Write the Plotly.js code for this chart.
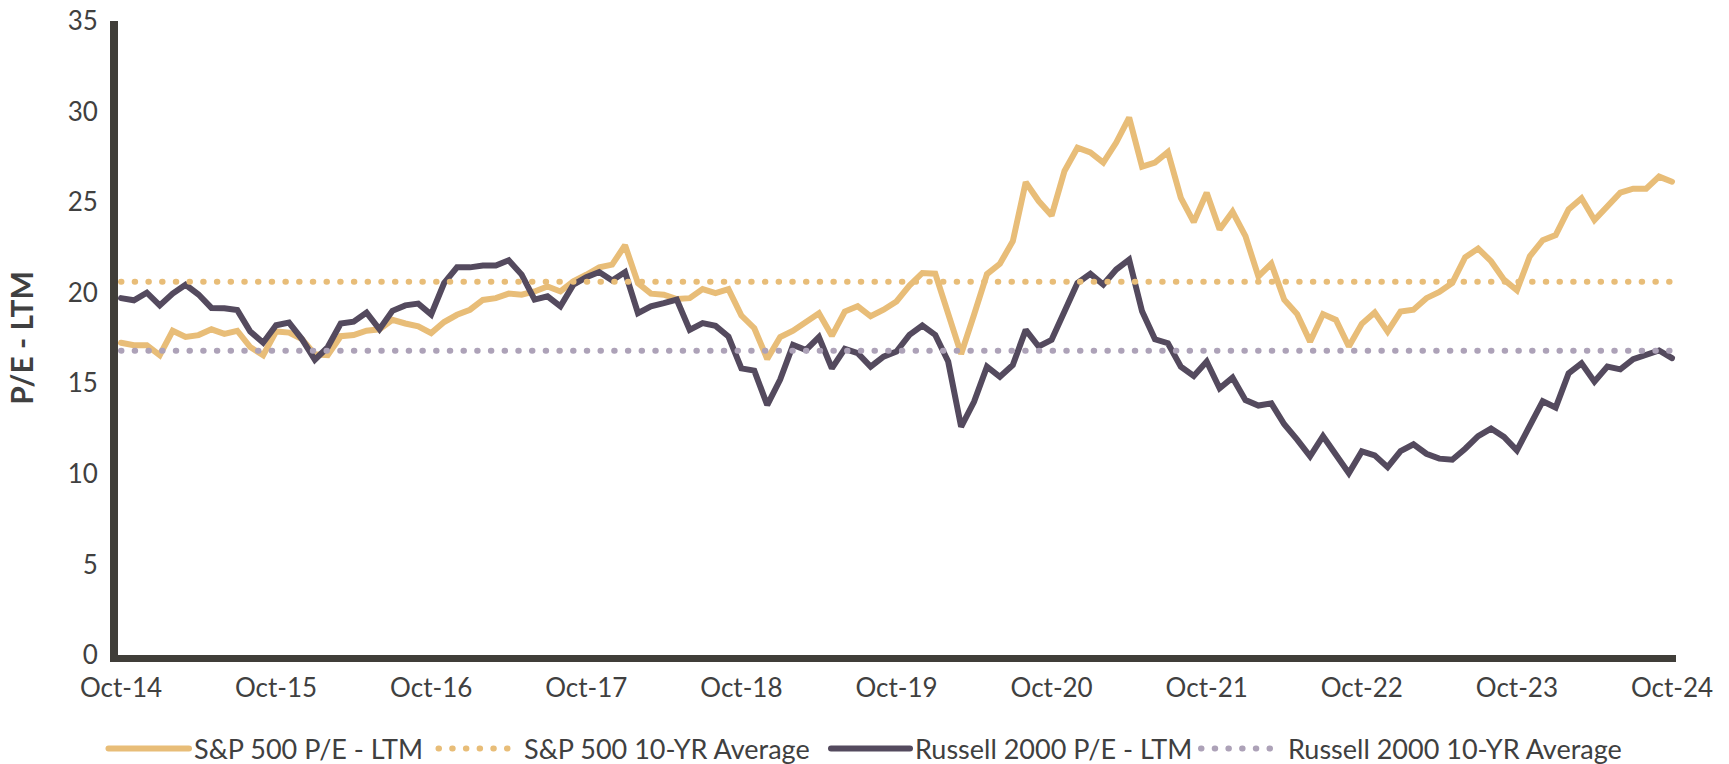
<!DOCTYPE html>
<html>
<head>
<meta charset="utf-8">
<script src="https://cdn.plot.ly/plotly-3.0.1.min.js"></script>
<style>
  html, body { margin: 0; padding: 0; background: #ffffff; }
  #chart { width: 1729px; height: 764px; }
  path.js-line { stroke-linecap: round !important; stroke-linejoin: miter !important; }
</style>
</head>
<body>
<div id="chart"></div>
<script>
// Month categories Oct-14 .. Oct-24 (monthly)
const monthNames = ["Jan","Feb","Mar","Apr","May","Jun","Jul","Aug","Sep","Oct","Nov","Dec"];
const months = [];
for (let y = 2014, m = 9; y < 2024 || (y === 2024 && m <= 9); ) {
  months.push(monthNames[m] + "-" + String(y).slice(2));
  m++; if (m === 12) { m = 0; y++; }
}

const xTickLabels = ["Oct-14","Oct-15","Oct-16","Oct-17","Oct-18","Oct-19","Oct-20","Oct-21","Oct-22","Oct-23","Oct-24"];

const sp500PE = [
  17.24,17.1,17.1,16.55,17.9,17.56,17.66,17.98,17.73,17.9,17.0,16.55,
  17.86,17.8,17.44,16.6,16.55,17.6,17.66,17.9,17.98,18.5,18.3,18.15,
  17.77,18.38,18.78,19.06,19.6,19.7,19.95,19.89,20.07,20.35,20.07,20.63,
  20.99,21.4,21.55,22.62,20.53,19.95,19.89,19.65,19.7,20.2,19.98,20.2,
  18.74,18.04,16.34,17.55,17.9,18.35,18.87,17.62,18.96,19.25,18.7,19.06,
  19.52,20.39,21.09,21.05,18.85,16.62,18.78,21.03,21.6,22.84,26.1,25.06,
  24.26,26.72,28.0,27.74,27.18,28.29,29.67,26.96,27.18,27.77,25.24,23.9,
  25.52,23.49,24.47,23.12,20.9,21.6,19.61,18.82,17.3,18.82,18.5,17.03,
  18.28,18.91,17.86,18.96,19.06,19.7,20.04,20.54,21.96,22.44,21.74,20.72,
  20.13,22.01,22.9,23.18,24.6,25.21,24.01,24.79,25.52,25.74,25.74,26.41,
  26.13
];

const russell2000PE = [
  19.7,19.58,20.0,19.3,19.95,20.44,19.9,19.16,19.14,19.04,17.86,17.24,
  18.2,18.35,17.44,16.3,17.0,18.3,18.4,18.9,17.98,19.0,19.3,19.4,
  18.8,20.53,21.4,21.4,21.5,21.5,21.79,21.0,19.62,19.8,19.25,20.44,
  20.85,21.14,20.68,21.14,18.87,19.25,19.42,19.62,17.95,18.32,18.17,17.58,
  15.82,15.7,13.8,15.2,17.12,16.84,17.55,15.82,16.9,16.66,15.92,16.47,
  16.75,17.67,18.19,17.67,16.2,12.6,13.98,15.92,15.36,16.01,17.95,17.03,
  17.4,19.06,20.54,21.04,20.45,21.28,21.83,18.97,17.43,17.21,15.92,15.4,
  16.2,14.72,15.31,14.07,13.77,13.89,12.74,11.89,10.97,12.08,11.02,10.04,
  11.24,11.02,10.37,11.26,11.63,11.11,10.84,10.78,11.39,12.08,12.5,12.04,
  11.3,12.68,14.01,13.66,15.55,16.1,15.09,15.92,15.77,16.33,16.57,16.81,
  16.39
];

const sp500Avg = 20.6;
const russell2000Avg = 16.8;

const seriesNames = ["S&P 500 P/E - LTM", "S&P 500 10-YR Average", "Russell 2000 P/E - LTM", "Russell 2000 10-YR Average"];
const colors = { sp: "#E8BD78", spAvg: "#E8BD78", ru: "#544A5E", ruAvg: "#ADA2B8" };

const avgX = [months[0], months[months.length - 1]];
const dotDash = "0.5px,13.2px";

const traces = [
  { x: months, y: sp500PE, name: seriesNames[0], type: "scatter", mode: "lines",
    line: { color: colors.sp, width: 6 }, legend: "legend" },
  { x: months, y: russell2000PE, name: seriesNames[2], type: "scatter", mode: "lines",
    line: { color: colors.ru, width: 6 }, legend: "legend3" },
  { x: avgX, y: [sp500Avg, sp500Avg], name: seriesNames[1], type: "scatter", mode: "lines",
    line: { color: colors.spAvg, width: 6, dash: dotDash }, legend: "legend2" },
  { x: avgX, y: [russell2000Avg, russell2000Avg], name: seriesNames[3], type: "scatter", mode: "lines",
    line: { color: colors.ruAvg, width: 6, dash: dotDash }, legend: "legend4" }
];

function legendAt(leftPx, itemWidth) {
  return {
    orientation: "h", xref: "container", yref: "container",
    x: leftPx / 1729, xanchor: "left", y: 15 / 764, yanchor: "middle",
    itemwidth: itemWidth, font: { size: 27, color: "#404040" },
    bgcolor: "rgba(0,0,0,0)", borderwidth: 0
  };
}

const layout = {
  width: 1729, height: 764,
  margin: { l: 118, r: 53, t: 21, b: 109, pad: 0 },
  paper_bgcolor: "#ffffff", plot_bgcolor: "#ffffff",
  font: { family: "Lato, 'Open Sans', sans-serif", size: 26, color: "#404040" },
  showlegend: true,
  xaxis: {
    type: "category", range: [-0.23, 120.31],
    tickmode: "array", tickvals: xTickLabels, ticktext: xTickLabels,
    showgrid: false, zeroline: false, showline: true,
    linecolor: "#403E39", linewidth: 7, ticks: "", ticklabelstandoff: 4,
    tickfont: { size: 26, color: "#404040" }, automargin: false
  },
  yaxis: {
    range: [0, 35], dtick: 5, tick0: 0,
    showgrid: false, zeroline: false, showline: true,
    linecolor: "#403E39", linewidth: 8, ticks: "", ticklabelstandoff: 7,
    tickfont: { size: 26, color: "#404040" }, automargin: false,
    title: { text: "P/E - LTM", font: { size: 30, weight: "bold", color: "#404040" }, standoff: 28 }
  },
  legend: legendAt(103.5, 80.5),
  legend2: legendAt(433.5, 80.5),
  legend3: legendAt(826, 79),
  legend4: legendAt(1196, 82)
};

Plotly.newPlot("chart", traces, layout, { staticPlot: true, displayModeBar: false });
</script>
</body>
</html>
